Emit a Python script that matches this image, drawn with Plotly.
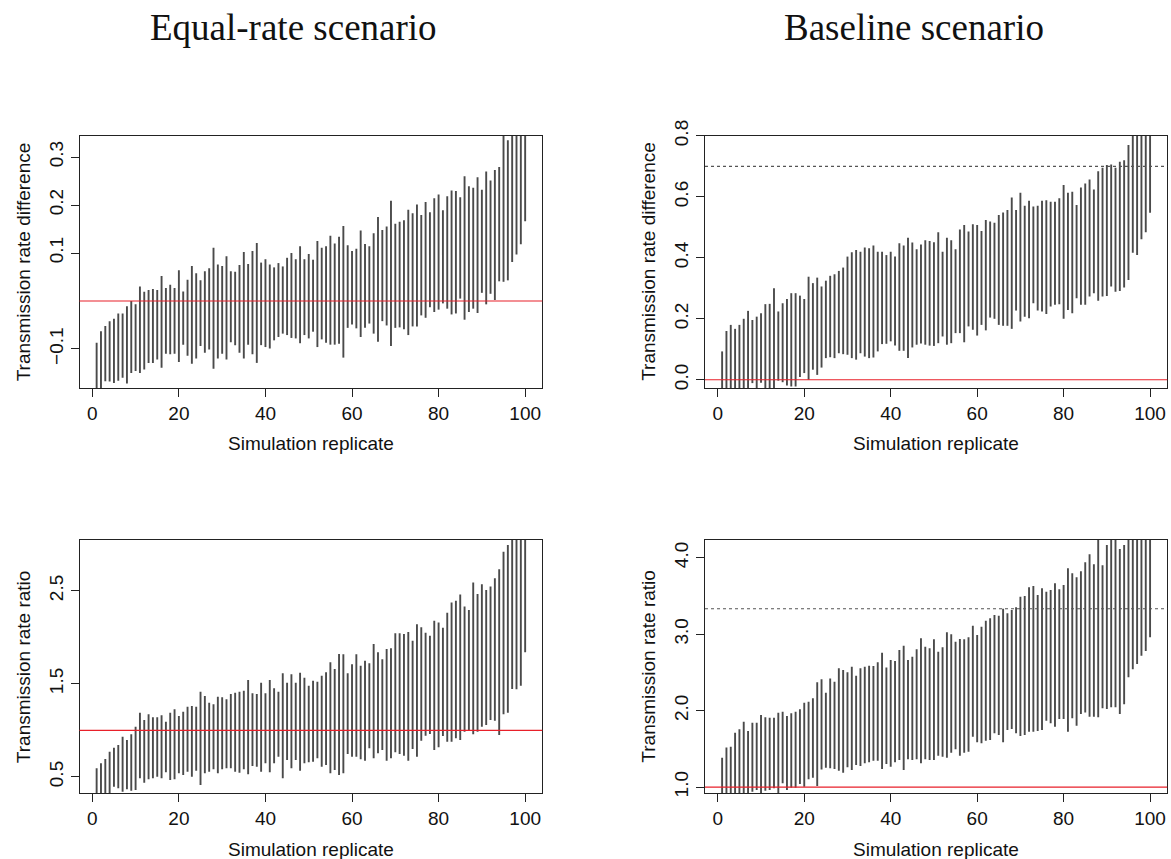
import plotly.graph_objects as go

W, H = 1171, 859

replicates = list(range(1, 101))

# ---- Equal-rate scenario: transmission rate difference (interval bounds) ----
eq_diff_lower = [-0.20, -0.19, -0.167, -0.168, -0.171, -0.166, -0.160, -0.172, -0.150, -0.146,
                 -0.150, -0.143, -0.129, -0.129, -0.122, -0.139, -0.110, -0.111, -0.110, -0.127,
                 -0.091, -0.114, -0.131, -0.120, -0.094, -0.108, -0.101, -0.141, -0.120, -0.110,
                 -0.122, -0.086, -0.092, -0.108, -0.120, -0.091, -0.111, -0.129, -0.092, -0.096,
                 -0.099, -0.082, -0.075, -0.068, -0.071, -0.077, -0.078, -0.088, -0.071, -0.078,
                 -0.064, -0.096, -0.080, -0.087, -0.091, -0.091, -0.089, -0.118, -0.056, -0.049,
                 -0.057, -0.075, -0.056, -0.047, -0.068, -0.085, -0.042, -0.051, -0.094, -0.056,
                 -0.055, -0.059, -0.071, -0.053, -0.053, -0.030, -0.035, -0.013, -0.023, -0.018,
                 -0.005, -0.016, -0.028, -0.026, 0.005, -0.039, -0.023, -0.016, -0.025, 0.017,
                 -0.007, 0.015, 0.002, 0.041, 0.040, 0.043, 0.081, 0.097, 0.118, 0.166]
eq_diff_upper = [-0.087, -0.063, -0.052, -0.042, -0.037, -0.026, -0.026, -0.011, 0.000, -0.007,
                 0.030, 0.019, 0.023, 0.025, 0.023, 0.052, 0.027, 0.034, 0.027, 0.064,
                 0.020, 0.044, 0.073, 0.058, 0.043, 0.062, 0.068, 0.111, 0.076, 0.073,
                 0.093, 0.062, 0.061, 0.075, 0.102, 0.077, 0.104, 0.121, 0.080, 0.087,
                 0.076, 0.070, 0.079, 0.072, 0.090, 0.100, 0.087, 0.114, 0.087, 0.098,
                 0.086, 0.125, 0.111, 0.114, 0.136, 0.120, 0.134, 0.156, 0.116, 0.104,
                 0.109, 0.147, 0.119, 0.114, 0.141, 0.175, 0.148, 0.155, 0.209, 0.161,
                 0.165, 0.168, 0.190, 0.183, 0.201, 0.179, 0.206, 0.185, 0.214, 0.222,
                 0.189, 0.218, 0.230, 0.229, 0.216, 0.260, 0.239, 0.236, 0.258, 0.232,
                 0.270, 0.251, 0.273, 0.279, 0.40, 0.335, 0.40, 0.40, 0.40, 0.40]

# ---- Baseline scenario: transmission rate difference ----
base_diff_lower = [-0.05, -0.04, -0.04, -0.04, -0.04, -0.04, -0.04, -0.011, -0.04, -0.01,
                   -0.04, -0.04, -0.04, -0.003, -0.008, -0.019, -0.022, -0.022, 0.009, 0.022,
                   0.000, 0.033, 0.016, 0.040, 0.071, 0.074, 0.071, 0.087, 0.084, 0.082,
                   0.071, 0.066, 0.087, 0.076, 0.071, 0.073, 0.093, 0.117, 0.118, 0.126,
                   0.112, 0.095, 0.095, 0.071, 0.106, 0.115, 0.119, 0.115, 0.112, 0.111,
                   0.120, 0.142, 0.115, 0.120, 0.153, 0.153, 0.123, 0.175, 0.164, 0.145,
                   0.180, 0.162, 0.204, 0.200, 0.180, 0.177, 0.177, 0.167, 0.227, 0.191,
                   0.207, 0.202, 0.251, 0.227, 0.224, 0.216, 0.240, 0.246, 0.248, 0.200,
                   0.229, 0.218, 0.267, 0.246, 0.246, 0.273, 0.284, 0.259, 0.273, 0.275,
                   0.306, 0.289, 0.291, 0.303, 0.327, 0.417, 0.409, 0.461, 0.484, 0.548]
base_diff_upper = [0.093, 0.160, 0.180, 0.167, 0.180, 0.200, 0.226, 0.196, 0.207, 0.218,
                   0.248, 0.249, 0.300, 0.224, 0.251, 0.265, 0.284, 0.284, 0.276, 0.265,
                   0.338, 0.317, 0.335, 0.306, 0.325, 0.341, 0.346, 0.357, 0.368, 0.404,
                   0.418, 0.426, 0.420, 0.434, 0.431, 0.440, 0.420, 0.420, 0.409, 0.420,
                   0.404, 0.448, 0.440, 0.466, 0.450, 0.428, 0.444, 0.458, 0.455, 0.451,
                   0.484, 0.420, 0.466, 0.458, 0.428, 0.493, 0.508, 0.486, 0.510, 0.508,
                   0.488, 0.524, 0.519, 0.515, 0.540, 0.549, 0.557, 0.598, 0.557, 0.613,
                   0.571, 0.587, 0.568, 0.571, 0.587, 0.589, 0.584, 0.584, 0.595, 0.639,
                   0.613, 0.617, 0.573, 0.631, 0.644, 0.657, 0.624, 0.684, 0.695, 0.704,
                   0.706, 0.695, 0.715, 0.720, 0.770, 0.85, 0.85, 0.85, 0.85, 0.85]

# ---- Equal-rate scenario: transmission rate ratio ----
eq_ratio_lower = [0.25, 0.28, 0.28, 0.28, 0.394, 0.376, 0.340, 0.366, 0.351, 0.358,
                  0.484, 0.437, 0.473, 0.484, 0.502, 0.484, 0.548, 0.466, 0.473, 0.538,
                  0.520, 0.555, 0.502, 0.566, 0.412, 0.538, 0.555, 0.581, 0.538, 0.581,
                  0.591, 0.591, 0.555, 0.545, 0.581, 0.527, 0.616, 0.609, 0.555, 0.645,
                  0.548, 0.645, 0.717, 0.484, 0.681, 0.591, 0.681, 0.566, 0.645, 0.656,
                  0.663, 0.699, 0.609, 0.627, 0.538, 0.573, 0.520, 0.538, 0.745, 0.717,
                  0.717, 0.688, 0.674, 0.806, 0.699, 0.753, 0.788, 0.674, 0.699, 0.763,
                  0.745, 0.728, 0.674, 0.799, 0.717, 0.889, 0.943, 0.961, 0.788, 0.817,
                  0.939, 0.878, 0.878, 0.914, 0.896, 0.986, 1.004, 0.957, 0.986, 1.039,
                  1.057, 1.111, 1.104, 0.950, 1.172, 1.190, 1.444, 1.441, 1.480, 1.839]
eq_ratio_upper = [0.591, 0.645, 0.692, 0.771, 0.814, 0.842, 0.932, 0.896, 0.957, 1.039,
                  1.190, 1.111, 1.172, 1.140, 1.140, 1.161, 1.093, 1.190, 1.226, 1.154,
                  1.201, 1.254, 1.262, 1.254, 1.416, 1.369, 1.297, 1.279, 1.362, 1.355,
                  1.333, 1.391, 1.405, 1.416, 1.426, 1.541, 1.398, 1.391, 1.512, 1.398,
                  1.541, 1.452, 1.416, 1.613, 1.512, 1.602, 1.512, 1.620, 1.566, 1.480,
                  1.534, 1.523, 1.588, 1.624, 1.731, 1.659, 1.821, 1.817, 1.613, 1.710,
                  1.817, 1.695, 1.749, 1.720, 1.928, 1.839, 1.763, 1.874, 1.882, 2.043,
                  2.043, 2.036, 2.057, 1.964, 2.140, 2.107, 2.050, 2.018, 2.179, 2.158,
                  2.104, 2.265, 2.373, 2.394, 2.459, 2.330, 2.294, 2.588, 2.466, 2.570,
                  2.509, 2.545, 2.634, 2.731, 2.921, 2.993, 3.3, 3.3, 3.3, 3.3]

# ---- Baseline scenario: transmission rate ratio ----
base_ratio_lower = [0.85, 0.85, 0.85, 0.85, 0.85, 0.85, 0.85, 0.939, 0.961, 0.85,
                    0.952, 0.961, 0.983, 0.85, 1.048, 0.961, 0.991, 0.991, 1.039, 1.005,
                    1.101, 1.122, 1.013, 1.231, 1.253, 1.245, 1.236, 1.214, 1.188, 1.258,
                    1.223, 1.288, 1.275, 1.310, 1.323, 1.345, 1.345, 1.236, 1.301, 1.266,
                    1.323, 1.354, 1.223, 1.362, 1.354, 1.362, 1.310, 1.362, 1.354, 1.354,
                    1.410, 1.397, 1.384, 1.450, 1.493, 1.410, 1.450, 1.463, 1.659, 1.585,
                    1.572, 1.607, 1.615, 1.703, 1.681, 1.585, 1.746, 1.759, 1.703, 1.668,
                    1.681, 1.724, 1.724, 1.733, 1.746, 1.868, 1.834, 1.790, 1.890, 1.890,
                    1.724, 1.899, 1.803, 1.956, 1.977, 1.921, 1.921, 1.912, 2.030, 2.021,
                    2.043, 2.043, 1.956, 2.082, 2.436, 2.540, 2.610, 2.719, 2.780, 2.959]
base_ratio_upper = [1.384, 1.519, 1.528, 1.711, 1.755, 1.855, 1.733, 1.842, 1.842, 1.943,
                    1.912, 1.908, 1.908, 1.973, 1.986, 1.929, 1.964, 1.986, 2.017, 2.104,
                    2.117, 2.161, 2.370, 2.409, 2.235, 2.422, 2.379, 2.553, 2.532, 2.501,
                    2.575, 2.457, 2.553, 2.575, 2.588, 2.584, 2.632, 2.758, 2.566, 2.662,
                    2.649, 2.793, 2.850, 2.662, 2.706, 2.802, 2.946, 2.837, 2.815, 2.933,
                    2.772, 2.828, 3.025, 2.998, 2.902, 2.937, 2.933, 2.959, 3.112, 2.990,
                    3.099, 3.177, 3.208, 3.251, 3.243, 3.334, 3.273, 3.317, 3.352, 3.491,
                    3.500, 3.614, 3.631, 3.513, 3.601, 3.557, 3.579, 3.666, 3.587, 3.644,
                    3.862, 3.797, 3.745, 3.823, 3.941, 4.046, 3.915, 4.5, 3.902, 4.168,
                    4.5, 4.5, 4.115, 4.168, 4.5, 4.5, 4.5, 4.5, 4.5, 4.5]

# reference lines
null_diff, null_ratio = 0.0, 1.0
true_base_diff, true_base_ratio = 0.7, 1.0 / 0.3

# ticks
x_ticks = [0, 20, 40, 60, 80, 100]
eq_diff_ticks = [-0.1, 0.1, 0.2, 0.3]
eq_diff_labels = ["\u22120.1", "0.1", "0.2", "0.3"]
base_diff_ticks = [0.0, 0.2, 0.4, 0.6, 0.8]
base_diff_labels = ["0.0", "0.2", "0.4", "0.6", "0.8"]
eq_ratio_ticks = [0.5, 1.5, 2.5]
eq_ratio_labels = ["0.5", "1.5", "2.5"]
base_ratio_ticks = [1.0, 2.0, 3.0, 4.0]
base_ratio_labels = ["1.0", "2.0", "3.0", "4.0"]

titles = ["Equal-rate scenario", "Baseline scenario"]
xlab = "Simulation replicate"
ylab_diff = "Transmission rate difference"
ylab_ratio = "Transmission rate ratio"

# ---------------- layout geometry (pixels) ----------------
col_px = [(79.5, 542.3), (705.0, 1167.2)]
row_px = [(135.7, 388.0), (540.0, 793.3)]
x_range = [-2.96, 103.96]
y_ranges = {
    "TL": [-0.1813, 0.3444],
    "TR": [-0.027, 0.8005],
    "BL": [0.323, 3.046],
    "BR": [0.918, 4.233],
}

def xd(a, b):
    return [a / W, b / W]

def yd(a, b):
    return [1 - b / H, 1 - a / H]

def segs(lo, hi):
    xs, ys = [], []
    for r, a, b in zip(replicates, lo, hi):
        xs += [r, r, None]
        ys += [a, b, None]
    return xs, ys

panels = [
    ("TL", 0, 0, eq_diff_lower, eq_diff_upper, eq_diff_ticks, eq_diff_labels, null_diff, None, ylab_diff),
    ("TR", 0, 1, base_diff_lower, base_diff_upper, base_diff_ticks, base_diff_labels, null_diff, true_base_diff, ylab_diff),
    ("BL", 1, 0, eq_ratio_lower, eq_ratio_upper, eq_ratio_ticks, eq_ratio_labels, null_ratio, None, ylab_ratio),
    ("BR", 1, 1, base_ratio_lower, base_ratio_upper, base_ratio_ticks, base_ratio_labels, null_ratio, true_base_ratio, ylab_ratio),
]

fig = go.Figure()
layout = dict(
    template="none",
    width=W, height=H,
    margin=dict(l=0, r=0, t=0, b=0, pad=0),
    paper_bgcolor="white", plot_bgcolor="white",
    showlegend=False,
    font=dict(family="Liberation Sans, Arial, sans-serif", size=19, color="#111"),
)
shapes, annotations = [], []
axis_line = "#222"
tick_font = dict(family="Liberation Sans, Arial, sans-serif", size=19, color="#111")

for k, (name, row, col, lo, hi, yt, ytl, nullv, truev, ylab) in enumerate(panels):
    idx = "" if k == 0 else str(k + 1)
    xs, ys = segs(lo, hi)
    fig.add_trace(go.Scatter(x=xs, y=ys, mode="lines",
                             line=dict(color="#4a4a4a", width=1.9),
                             xaxis="x" + idx, yaxis="y" + idx,
                             hoverinfo="skip"))
    cx0, cx1 = col_px[col]
    ry0, ry1 = row_px[row]
    layout["xaxis" + idx] = dict(
        domain=xd(cx0, cx1), anchor="y" + idx, range=x_range, automargin=False,
        tickmode="array", tickvals=x_ticks, ticks="outside", ticklen=8, tickwidth=1,
        tickcolor=axis_line,
        showline=True, mirror=True, linecolor=axis_line, linewidth=1,
        showgrid=False, zeroline=False, fixedrange=True,
        tickfont=tick_font,
    )
    layout["yaxis" + idx] = dict(
        domain=yd(ry0, ry1), anchor="x" + idx, range=y_ranges[name], automargin=False,
        tickmode="array", tickvals=yt, ticktext=ytl, tickangle=-90,
        ticks="outside", ticklen=8, tickwidth=1, tickcolor=axis_line,
        showline=True, mirror=True, linecolor=axis_line, linewidth=1,
        showgrid=False, zeroline=False, fixedrange=True,
        tickfont=tick_font,
    )
    xref = "x" + idx
    yref = "y" + idx
    shapes.append(dict(type="line", xref=xref + " domain", yref=yref,
                       x0=0, x1=1, y0=nullv, y1=nullv,
                       line=dict(color="#e8202a", width=1.2), layer="above"))
    if truev is not None:
        shapes.append(dict(type="line", xref=xref + " domain", yref=yref,
                           x0=0, x1=1, y0=truev, y1=truev,
                           line=dict(color="#555", width=1.2, dash="dot"), layer="above"))
    # axis titles
    annotations.append(dict(text=ylab, textangle=-90, showarrow=False,
                            xref="paper", yref="paper",
                            x=(cx0 - 56) / W, y=1 - (ry0 + ry1) / 2 / H,
                            xanchor="center", yanchor="middle",
                            font=dict(size=19, color="#111")))
    annotations.append(dict(text=xlab, showarrow=False,
                            xref="paper", yref="paper",
                            x=(cx0 + cx1) / 2 / W, y=1 - (ry1 + 56) / H,
                            xanchor="center", yanchor="middle",
                            font=dict(size=19, color="#111")))

for t, xc in zip(titles, [293, 914]):
    annotations.append(dict(text=t, showarrow=False, xref="paper", yref="paper",
                            x=xc / W, y=1 - 28 / H, xanchor="center", yanchor="middle",
                            font=dict(family="Liberation Serif, Times New Roman, serif",
                                      size=37, color="#111")))

layout["shapes"] = shapes
layout["annotations"] = annotations
fig.update_layout(**layout)
fig.write_html("out.html")
